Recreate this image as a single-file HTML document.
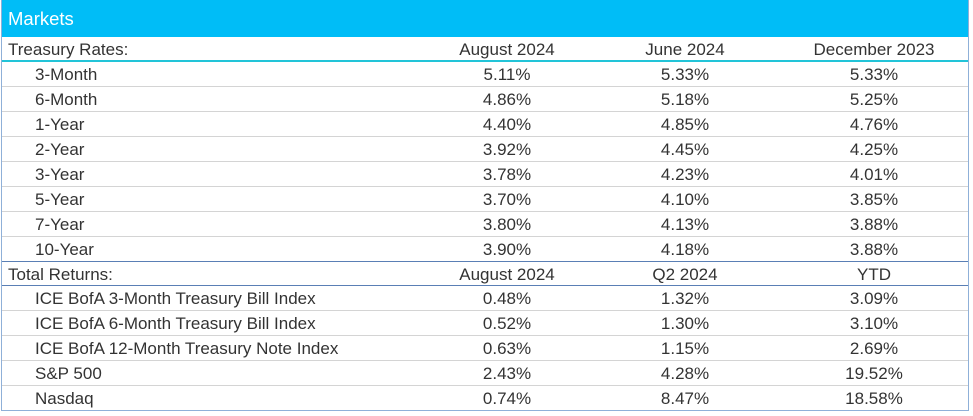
<!DOCTYPE html>
<html><head><style>
body{margin:0;background:#fff;width:973px;height:416px;overflow:hidden;font-family:"Liberation Sans",sans-serif;}
.wrap{position:absolute;left:1px;top:0;width:968px;height:411px;border-left:1px solid #8fb0d8;border-right:1px solid #8fb0d8;border-bottom:1px solid #8fb0d8;box-sizing:border-box;}
.hdr{position:absolute;left:0;top:0;width:100%;height:37px;background:#00bdf7;color:#fff;font-size:18.5px;line-height:37px;padding-left:6px;box-sizing:border-box;}
.row{position:absolute;left:0;width:100%;height:25px;border-bottom:1px solid #d4d4d4;box-sizing:border-box;font-size:17px;color:#333;line-height:26px;}
.row span{position:absolute;top:0;}
.l{left:6px}.li{left:33px}
.c1,.c2,.c3{width:200px;text-align:center;}
.c1{left:405px}.c2{left:583px}.c3{left:772px}
.sec{border-bottom:2px solid #22c4d8;}
.sec2{border-top:1px solid #5a7fb5;border-bottom:1px solid #5a7fb5;}
</style></head><body>
<div class="wrap">
<div class="hdr">Markets</div>
<div class="row sec" style="top:37px"><span class="l">Treasury Rates:</span><span class="c1">August 2024</span><span class="c2">June 2024</span><span class="c3">December 2023</span></div>
<div class="row" style="top:62px"><span class="li">3-Month</span><span class="c1">5.11%</span><span class="c2">5.33%</span><span class="c3">5.33%</span></div>
<div class="row" style="top:87px"><span class="li">6-Month</span><span class="c1">4.86%</span><span class="c2">5.18%</span><span class="c3">5.25%</span></div>
<div class="row" style="top:112px"><span class="li">1-Year</span><span class="c1">4.40%</span><span class="c2">4.85%</span><span class="c3">4.76%</span></div>
<div class="row" style="top:137px"><span class="li">2-Year</span><span class="c1">3.92%</span><span class="c2">4.45%</span><span class="c3">4.25%</span></div>
<div class="row" style="top:162px"><span class="li">3-Year</span><span class="c1">3.78%</span><span class="c2">4.23%</span><span class="c3">4.01%</span></div>
<div class="row" style="top:187px"><span class="li">5-Year</span><span class="c1">3.70%</span><span class="c2">4.10%</span><span class="c3">3.85%</span></div>
<div class="row" style="top:212px"><span class="li">7-Year</span><span class="c1">3.80%</span><span class="c2">4.13%</span><span class="c3">3.88%</span></div>
<div class="row" style="top:237px;border-bottom:none"><span class="li">10-Year</span><span class="c1">3.90%</span><span class="c2">4.18%</span><span class="c3">3.88%</span></div>
<div class="row sec2" style="top:261px"><span class="l">Total Returns:</span><span class="c1">August 2024</span><span class="c2">Q2 2024</span><span class="c3">YTD</span></div>
<div class="row" style="top:286px"><span class="li">ICE BofA 3-Month Treasury Bill Index</span><span class="c1">0.48%</span><span class="c2">1.32%</span><span class="c3">3.09%</span></div>
<div class="row" style="top:311px"><span class="li">ICE BofA 6-Month Treasury Bill Index</span><span class="c1">0.52%</span><span class="c2">1.30%</span><span class="c3">3.10%</span></div>
<div class="row" style="top:336px"><span class="li">ICE BofA 12-Month Treasury Note Index</span><span class="c1">0.63%</span><span class="c2">1.15%</span><span class="c3">2.69%</span></div>
<div class="row" style="top:361px"><span class="li">S&amp;P 500</span><span class="c1">2.43%</span><span class="c2">4.28%</span><span class="c3">19.52%</span></div>
<div class="row" style="top:386px;border-bottom:none"><span class="li">Nasdaq</span><span class="c1">0.74%</span><span class="c2">8.47%</span><span class="c3">18.58%</span></div>
</div>
</body></html>
